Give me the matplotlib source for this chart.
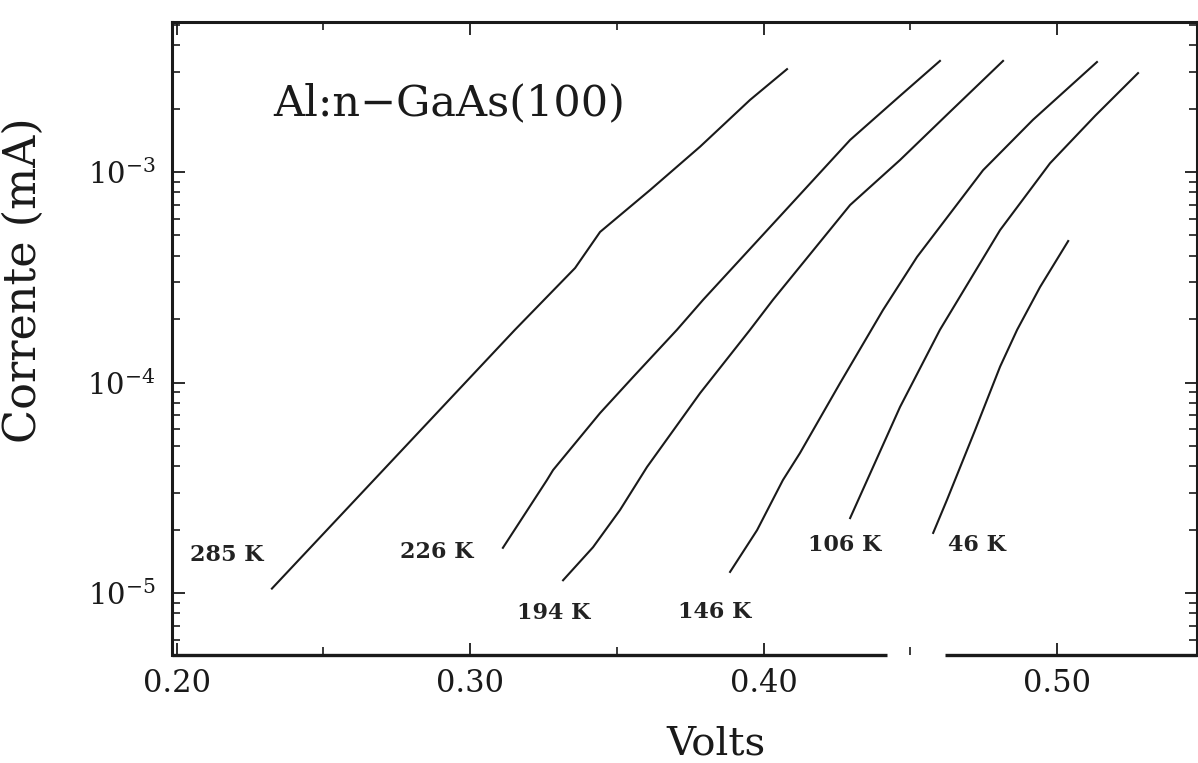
import numpy as np
import matplotlib
matplotlib.use('Agg')
import matplotlib.pyplot as plt
from matplotlib.ticker import MultipleLocator, LogLocator, NullFormatter, FormatStrFormatter

plt.rcParams['font.family'] = ['DejaVu Serif']
plt.rcParams['mathtext.fontset'] = 'dejavuserif'

# I-V curves (volts, current in mA)
v_285 = [0.2325, 0.3153, 0.3358, 0.3443, 0.3613, 0.3784, 0.3954, 0.4080]
i_285 = [1.05e-5, 1.78e-4, 3.50e-4, 5.19e-4, 8.2e-4, 1.32e-3, 2.20e-3, 3.08e-3]

v_226 = [0.3112, 0.3262, 0.3283, 0.3443, 0.3555, 0.3705, 0.3794, 0.4066, 0.4295, 0.4465, 0.4601]
i_226 = [1.64e-5, 3.44e-5, 3.84e-5, 7.16e-5, 1.06e-4, 1.78e-4, 2.47e-4, 6.38e-4, 1.42e-3, 2.30e-3, 3.37e-3]

v_194 = [0.3317, 0.3419, 0.3511, 0.3603, 0.3784, 0.3954, 0.4032, 0.4295, 0.4465, 0.4635, 0.4816]
i_194 = [1.15e-5, 1.65e-5, 2.48e-5, 3.97e-5, 8.91e-5, 1.78e-4, 2.47e-4, 6.97e-4, 1.14e-3, 1.93e-3, 3.37e-3]

v_146 = [0.3886, 0.3978, 0.4066, 0.4124, 0.4261, 0.4407, 0.4523, 0.4748, 0.4918, 0.5136]
i_146 = [1.26e-5, 1.99e-5, 3.44e-5, 4.62e-5, 9.95e-5, 2.21e-4, 3.95e-4, 1.02e-3, 1.77e-3, 3.33e-3]

v_106 = [0.4295, 0.4465, 0.4601, 0.4806, 0.4976, 0.5130, 0.5276]
i_106 = [2.27e-5, 7.65e-5, 1.78e-4, 5.30e-4, 1.10e-3, 1.85e-3, 2.95e-3]

v_46 = [0.4578, 0.4625, 0.4721, 0.4806, 0.4864, 0.4942, 0.5038]
i_46 = [1.93e-5, 2.77e-5, 5.95e-5, 1.19e-4, 1.78e-4, 2.84e-4, 4.70e-4]

curves = [(v_285, i_285), (v_226, i_226), (v_194, i_194),
          (v_146, i_146), (v_106, i_106), (v_46, i_46)]

# temperature labels and where they sit (V, mA)
temp_labels = ['285 K', '226 K', '194 K', '146 K', '106 K', '46 K']
label_v = [0.2046, 0.2761, 0.3160, 0.3709, 0.4152, 0.4629]
label_i = [1.52e-5, 1.57e-5, 8.0e-6, 8.1e-6, 1.69e-5, 1.69e-5]

fig = plt.figure(figsize=(11.98, 7.63), dpi=100)
ax = fig.add_axes([0.1436, 0.1415, 0.8556, 0.8297])

for v, i in curves:
    ax.plot(v, i, color='#1a1a1a', lw=1.5, solid_joinstyle='round')

for txt, lv, li in zip(temp_labels, label_v, label_i):
    ax.text(lv, li, txt, fontsize=16, fontweight='bold', color='#222222',
            ha='left', va='center')

ax.text(0.0985, 0.872, 'Al:n\u2212GaAs(100)', transform=ax.transAxes,
        fontsize=31, ha='left', va='center', color='#1a1a1a')

ax.set_yscale('log')
ax.set_xlim(0.19847, 0.5477)
ax.set_ylim(5.076e-6, 5.16e-3)

ax.xaxis.set_major_locator(MultipleLocator(0.1))
ax.xaxis.set_minor_locator(MultipleLocator(0.05))
ax.xaxis.set_major_formatter(FormatStrFormatter('%.2f'))
ax.yaxis.set_major_locator(LogLocator(base=10))
ax.yaxis.set_minor_locator(LogLocator(base=10, subs=np.arange(2, 10)))
ax.yaxis.set_minor_formatter(NullFormatter())

ax.tick_params(which='both', direction='in', top=True, right=True,
               color='#1a1a1a', labelcolor='#1a1a1a')
ax.tick_params(which='major', length=9, width=1.3)
ax.tick_params(which='minor', length=6, width=1.2)
ax.tick_params(axis='x', labelsize=22, pad=9)
ax.tick_params(axis='y', labelsize=21, pad=12)

for side in ['left', 'top', 'right']:
    ax.spines[side].set_linewidth(2.2)
    ax.spines[side].set_color('#1a1a1a')

# bottom spine in two pieces, as in the scan
ax.spines['bottom'].set_visible(False)
ax.plot([0, 0.698], [0, 0], transform=ax.transAxes, color='#1a1a1a',
        lw=2.4, clip_on=False, solid_capstyle='butt')
ax.plot([0.754, 1.0], [0, 0], transform=ax.transAxes, color='#1a1a1a',
        lw=2.4, clip_on=False, solid_capstyle='butt')

fig.text(716 / 1198, 1 - 744 / 763, 'Volts', fontsize=29, ha='center',
         va='center', color='#1a1a1a')
fig.text(36 / 1198, 1 - 280 / 763, 'Corrente (mA)', fontsize=32, rotation=90,
         rotation_mode='anchor', ha='center', va='baseline', color='#1a1a1a')

fig.savefig('out.png', dpi=100)
